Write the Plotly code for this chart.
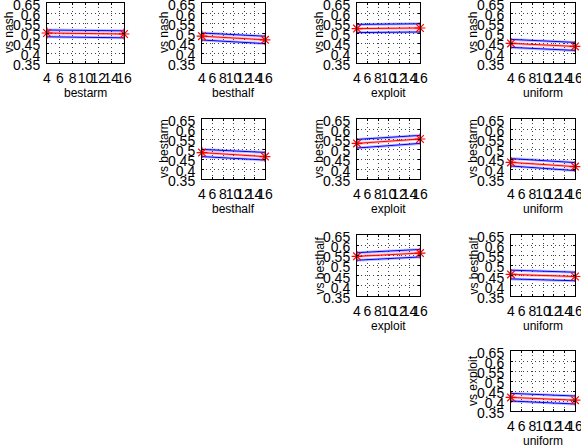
import plotly.graph_objects as go

# ---- data ----
strategies = ["bestarm", "besthalf", "exploit", "uniform"]
opponents = ["nash", "bestarm", "besthalf", "exploit"]
x_ticks = [4, 6, 8, 10, 12, 14, 16]
y_ticks = [0.35, 0.4, 0.45, 0.5, 0.55, 0.6, 0.65]
y_tick_text = ["0.35", "0.4", "0.45", "0.5", "0.55", "0.6", "0.65"]
sizes = [4, 16]

panel_row = [0, 0, 0, 0, 1, 1, 1, 2, 2, 3]
panel_col = [0, 1, 2, 3, 1, 2, 3, 2, 3, 3]
mean_start = [0.500, 0.484, 0.522, 0.448, 0.482, 0.528, 0.433, 0.545, 0.456, 0.418]
mean_end = [0.495, 0.466, 0.525, 0.433, 0.462, 0.550, 0.412, 0.561, 0.446, 0.404]
upper_start = [0.515, 0.500, 0.543, 0.468, 0.498, 0.548, 0.452, 0.563, 0.477, 0.438]
upper_end = [0.511, 0.484, 0.546, 0.453, 0.483, 0.568, 0.432, 0.579, 0.467, 0.425]
lower_start = [0.481, 0.465, 0.502, 0.428, 0.462, 0.505, 0.415, 0.526, 0.434, 0.400]
lower_end = [0.476, 0.447, 0.505, 0.413, 0.445, 0.528, 0.392, 0.542, 0.425, 0.385]

# ---- layout constants (pixels) ----
W, H = 581, 446
col_px = [(47, 124), (202, 265), (357, 420), (511, 575)]
row_px = [(3, 63), (119, 179), (235, 296), (351, 411)]
FONT = "Liberation Sans, Arial, Helvetica, sans-serif"

fig = go.Figure()
annotations = []
layout_axes = {}

for i, (r, c) in enumerate(zip(panel_row, panel_col)):
    n = i + 1
    xa = "x" if n == 1 else f"x{n}"
    ya = "y" if n == 1 else f"y{n}"
    common = dict(showlegend=False, hoverinfo="skip", xaxis=xa, yaxis=ya)
    fig.add_trace(go.Scatter(x=sizes, y=[upper_start[i], upper_end[i]], mode="lines",
                             line=dict(color="rgba(0,0,255,0.25)", width=3), **common))
    fig.add_trace(go.Scatter(x=sizes, y=[lower_start[i], lower_end[i]], mode="lines",
                             line=dict(color="rgba(0,0,255,0.25)", width=3), **common))
    fig.add_trace(go.Scatter(x=sizes, y=[mean_start[i], mean_end[i]], mode="lines",
                             line=dict(color="rgba(255,0,0,0.25)", width=3), **common))
    fig.add_trace(go.Scatter(x=sizes, y=[upper_start[i], upper_end[i]], mode="lines",
                             line=dict(color="blue", width=1), **common))
    fig.add_trace(go.Scatter(x=sizes, y=[lower_start[i], lower_end[i]], mode="lines",
                             line=dict(color="blue", width=1), **common))
    fig.add_trace(go.Scatter(x=sizes, y=[mean_start[i], mean_end[i]], mode="lines+markers",
                             line=dict(color="red", width=1),
                             marker=dict(symbol="asterisk-open", size=9,
                                         line=dict(color="red", width=1.2)),
                             cliponaxis=False, **common))

    x0, x1 = col_px[c]
    y0, y1 = row_px[r]
    axcommon = dict(showline=True, linecolor="black", linewidth=1, mirror="ticks",
                    ticks="inside", ticklen=2, tickcolor="black", automargin=False,
                    showgrid=True, gridcolor="#444", gridwidth=1, griddash="1px,3px",
                    zeroline=False, tickfont=dict(family=FONT, size=14, color="black"),
                    ticklabeloverflow="allow", fixedrange=True)
    layout_axes["xaxis" if n == 1 else f"xaxis{n}"] = dict(
        domain=[x0 / W, x1 / W], anchor=ya, range=[4, 16], tickvals=x_ticks,
        tickangle=0, ticklabelstandoff=2, **axcommon)
    layout_axes["yaxis" if n == 1 else f"yaxis{n}"] = dict(
        domain=[1 - y1 / H, 1 - y0 / H], anchor=xa, range=[0.35, 0.65],
        tickvals=y_ticks, ticktext=y_tick_text, ticklabelstandoff=3,
        ticklabelshift=2, **axcommon)

    annotations.append(dict(text=strategies[c], xref="paper", yref="paper",
                            x=(x0 + x1) / 2 / W, y=1 - (y1 + 30) / H,
                            xanchor="center", yanchor="middle", showarrow=False,
                            font=dict(family=FONT, size=12, color="black")))
    annotations.append(dict(text="vs " + opponents[r], xref="paper", yref="paper",
                            x=(x0 - 38) / W, y=1 - (y0 + y1) / 2 / H, textangle=-90,
                            xanchor="center", yanchor="middle", showarrow=False,
                            font=dict(family=FONT, size=12, color="black")))

fig.update_layout(width=W, height=H, margin=dict(l=0, r=0, t=0, b=0, autoexpand=False),
                  paper_bgcolor="white", plot_bgcolor="white",
                  annotations=annotations, **layout_axes)

fig.write_html("out.html", config={"displayModeBar": False},
               post_script="document.body.style.margin='0px';"
                           "document.body.style.overflow='hidden';")
